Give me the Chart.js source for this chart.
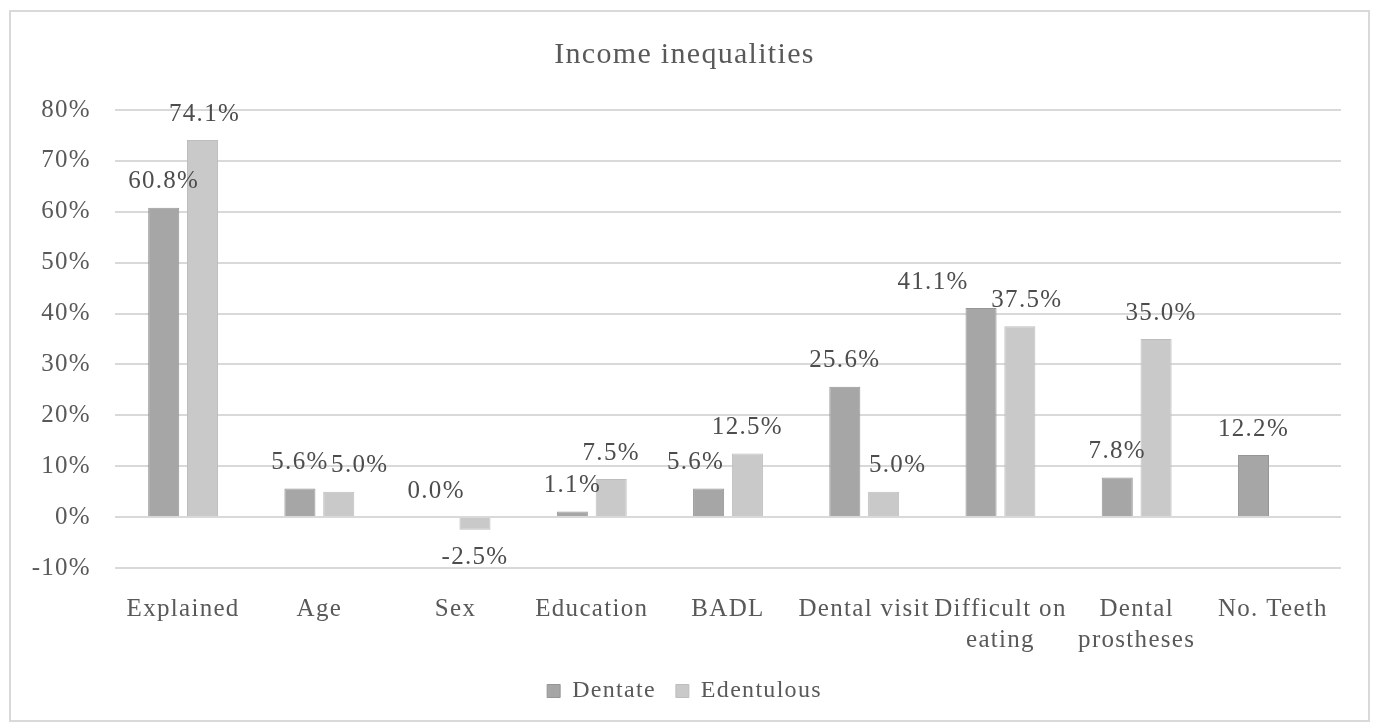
<!DOCTYPE html>
<html>
<head>
<meta charset="utf-8">
<script src="https://cdn.jsdelivr.net/npm/chart.js@4/dist/chart.umd.min.js"></script>
<style>
  html, body { margin: 0; padding: 0; background: #fff; }
  #wrap { width: 1379px; height: 728px; }
</style>
</head>
<body>
<div id="wrap"><canvas id="myChart" width="1379" height="728"></canvas></div>
<script>
const categories = ['Explained', 'Age', 'Sex', 'Education', 'BADL', 'Dental visit',
  ['Difficult on', 'eating'], ['Dental', 'prostheses'], 'No. Teeth'];
const dentate = [60.8, 5.6, 0.0, 1.1, 5.6, 25.6, 41.1, 7.8, 12.2];
const edentulous = [74.1, 5.0, -2.5, 7.5, 12.5, 5.0, 37.5, 35.0, null];
const yTicks = [-10, 0, 10, 20, 30, 40, 50, 60, 70, 80];

// excel had dragged a few labels sideways so they don't collide (px)
const labelNudge = [
  [0, 0, 0, 0, -13, 0, -48, 0, 0],
  [2, 21, 0, 0, 0, 14, 7, 5, 0]
];

const textGrey = '#595959';
const serif = "'Liberation Serif', 'Times New Roman', serif";

// the original text is a bit wide, so spread the letters a little
const spacing = {
  id: 'spacing',
  beforeUpdate(chart) { chart.ctx.letterSpacing = '1.3px'; },
  beforeDraw(chart) { chart.ctx.letterSpacing = '1.3px'; }
};

// outer frame like the excel chart border
const framePlugin = {
  id: 'frame',
  beforeDraw(chart) {
    const c = chart.ctx;
    c.save();
    c.fillStyle = '#fff';
    c.fillRect(0, 0, chart.width, chart.height);
    c.strokeStyle = '#d9d9d9';
    c.lineWidth = 2;
    c.strokeRect(10, 11, chart.width - 20, chart.height - 18);
    c.restore();
  }
};

// value labels above (or below) each bar
const valueLabels = {
  id: 'valueLabels',
  afterDatasetsDraw(chart) {
    const c = chart.ctx;
    c.save();
    c.font = '25px ' + serif;
    c.fillStyle = '#4d4d4d';
    c.textAlign = 'center';
    c.textBaseline = 'middle';
    chart.data.datasets.forEach((ds, i) => {
      const meta = chart.getDatasetMeta(i);
      meta.data.forEach((bar, j) => {
        const v = ds.data[j];
        if (v === null || v === undefined) return;
        const y = v < 0 ? bar.y + 28 : bar.y - 26;
        c.fillText(v.toFixed(1) + '%', bar.x + labelNudge[i][j], y);
      });
    });
    c.restore();
  }
};

const data = {
  labels: categories,
  datasets: [{
    label: 'Dentate',
    data: dentate,
    backgroundColor: '#a6a6a6',
    borderColor: '#969696',
    borderWidth: 1
  }, {
    label: 'Edentulous',
    data: edentulous,
    backgroundColor: '#c9c9c9',
    borderColor: '#bdbdbd',
    borderWidth: 1
  }]
};

const config = {
  type: 'bar',
  data: data,
  options: {
    responsive: false,
    animation: false,
    devicePixelRatio: 1,
    datasets: { bar: { categoryPercentage: 0.57, barPercentage: 0.8, skipNull: false } },
    layout: { padding: { left: 28, right: 38, top: 20, bottom: 15 } },
    plugins: {
      title: {
        display: true,
        text: 'Income inequalities',
        color: textGrey,
        font: { family: serif, size: 30, weight: 'normal' },
        padding: { top: 17, bottom: 37 }
      },
      legend: {
        position: 'bottom',
        labels: {
          color: textGrey,
          font: { family: serif, size: 24 },
          boxWidth: 13,
          boxHeight: 13,
          padding: 20
        }
      },
      tooltip: { enabled: false }
    },
    scales: {
      x: {
        grid: { display: false },
        border: { display: false },
        afterFit(axis) { axis.height = 91; },
        ticks: {
          color: textGrey,
          font: { family: serif, size: 25, lineHeight: 1.24 },
          maxRotation: 0,
          autoSkip: false,
          padding: 18
        }
      },
      y: {
        min: -10,
        max: 80,
        afterBuildTicks(axis) { axis.ticks = yTicks.map(v => ({ value: v })); },
        afterFit(axis) { axis.width = 87; },
        grid: { color: '#d9d9d9', lineWidth: 2, drawTicks: false },
        border: { display: false },
        ticks: {
          color: textGrey,
          font: { family: serif, size: 25 },
          padding: 24,
          callback: v => v + '%'
        }
      }
    }
  },
  plugins: [spacing, framePlugin, valueLabels]
};

const myChart = new Chart(document.getElementById('myChart').getContext('2d'), config);
</script>
</body>
</html>
